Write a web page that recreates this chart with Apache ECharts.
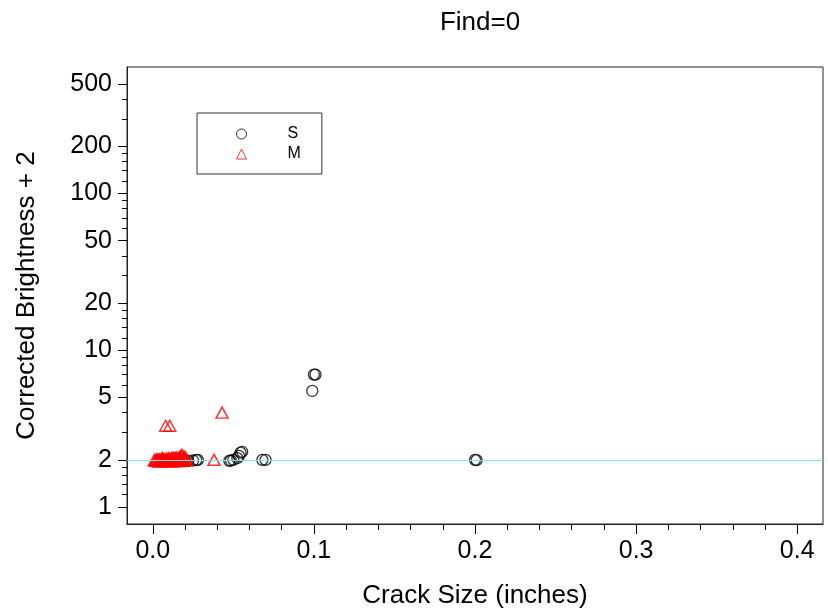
<!DOCTYPE html>
<html>
<head>
<meta charset="utf-8">
<script src="https://cdn.jsdelivr.net/npm/echarts@6/dist/echarts.min.js"></script>
<style>html,body{margin:0;padding:0;background:#fff}#c{width:828px;height:615px}</style>
</head>
<body>
<div id="c"></div>
<script>
// ---- data (crack size in inches, corrected brightness + 2) ----
const sX = [0.100, 0.101, 0.099, 0.200, 0.201, 0.068, 0.070, 0.0545, 0.0555, 0.0535, 0.0525, 0.050, 0.0485, 0.0475, 0.028, 0.027, 0.025, 0.022, 0.020, 0.018, 0.016];
const sY = [7.0, 7.0, 5.5, 2.0, 1.99, 2.0, 2.0, 2.22, 2.25, 2.12, 2.05, 2.0, 1.98, 1.97, 2.0, 1.99, 1.98, 1.97, 1.98, 2.0, 1.98];
const mX = [0.008, 0.0105, 0.043, 0.038,
  0.001, 0.0015, 0.002, 0.0025, 0.003, 0.0035, 0.004, 0.0045, 0.005, 0.0055, 0.006, 0.0065, 0.007, 0.0075, 0.008, 0.0085,
  0.009, 0.0095, 0.010, 0.0105, 0.011, 0.0115, 0.012, 0.0125, 0.013, 0.0135, 0.014, 0.0145, 0.015, 0.0155, 0.016, 0.0165,
  0.017, 0.0175, 0.018, 0.0185, 0.019, 0.0195, 0.020, 0.0205, 0.021, 0.006, 0.010, 0.014, 0.018, 0.004, 0.012, 0.016];
const mY = [3.3, 3.3, 4.0, 2.0,
  2.0, 1.97, 1.98, 2.02, 2.0, 1.96, 2.02, 1.99, 1.97, 2.03, 2.0, 1.96, 2.03, 1.98, 1.98, 2.04,
  2.0, 1.96, 2.02, 1.98, 1.97, 2.05, 2.0, 2.06, 2.05, 1.97, 2.0, 1.97, 2.07, 2.02, 2.0, 2.08,
  2.1, 1.98, 2.15, 2.12, 2.05, 1.97, 2.1, 2.03, 2.0, 2.05, 2.05, 2.06, 2.0, 1.95, 1.95, 1.96];
const xTickLabels = [0.0, 0.1, 0.2, 0.3, 0.4];
const xMinorTicks = [0.02, 0.04, 0.06, 0.08, 0.12, 0.14, 0.16, 0.18, 0.22, 0.24, 0.26, 0.28, 0.32, 0.34, 0.36, 0.38];
const yTickLabels = [1, 2, 5, 10, 20, 50, 100, 200, 500];
const yMinorTicks = [1.2, 1.4, 1.6, 1.8, 3, 4, 6, 7, 8, 9, 12, 14, 16, 18, 30, 40, 60, 70, 80, 90, 120, 140, 160, 180, 300, 400];
const refLine = 2;

const L = v => Math.log10(v);
const font = '"Liberation Sans", Arial, sans-serif';
const chart = echarts.init(document.getElementById('c'));

const xBase = { type: 'value', min: -0.016, max: 0.416, splitLine: { show: false } };
const yBase = { type: 'value', min: -0.1085, max: 2.8075, splitLine: { show: false } };

chart.setOption({
  animation: false,
  title: {
    text: 'Find=0', left: 475, top: 5, textAlign: 'center',
    textStyle: { fontFamily: font, fontSize: 26, fontWeight: 'normal', color: '#000' }
  },
  legend: {
    orient: 'vertical', left: 197, top: 113,
    padding: [13, 21, 12, 39], itemGap: 4,
    itemWidth: 10, itemHeight: 10,
    borderColor: '#333', borderWidth: 1,
    textStyle: { fontFamily: font, fontSize: 16, color: '#000', padding: [0, 0, 0, 36] },
    data: [
      { name: 'S', icon: 'circle', itemStyle: { color: 'rgba(0,0,0,0)', borderColor: '#000', borderWidth: 1 } },
      { name: 'M', icon: 'triangle', itemStyle: { color: 'rgba(0,0,0,0)', borderColor: '#ff0000', borderWidth: 1 } }
    ]
  },
  grid: { left: 127, top: 67, right: 5, bottom: 91, show: true, borderColor: '#222', borderWidth: 1, backgroundColor: 'transparent' },
  xAxis: [
    Object.assign({}, xBase, {
      position: 'bottom',
      name: 'Crack Size (inches)', nameLocation: 'middle', nameGap: 59,
      nameTextStyle: { fontFamily: font, fontSize: 26, color: '#000' },
      axisLine: { show: true, onZero: false, lineStyle: { color: '#222', width: 1 } },
      axisTick: { show: true, length: 10, customValues: xTickLabels, lineStyle: { color: '#000' } },
      axisLabel: { customValues: xTickLabels, margin: 15, fontFamily: font, fontSize: 25, color: '#000',
        formatter: v => Number(v).toFixed(1) }
    }),
    Object.assign({}, xBase, {
      position: 'bottom', offset: 0,
      axisLine: { show: false, onZero: false },
      axisTick: { show: true, length: 6, customValues: xMinorTicks, lineStyle: { color: '#000' } },
      axisLabel: { show: false }
    })
  ],
  yAxis: [
    Object.assign({}, yBase, {
      position: 'left',
      name: 'Corrected Brightness + 2', nameLocation: 'middle', nameGap: 87, nameRotate: 90,
      nameTextStyle: { fontFamily: font, fontSize: 26, color: '#000' },
      axisLine: { show: true, onZero: false, lineStyle: { color: '#222', width: 1 } },
      axisTick: { show: true, length: 9, customValues: yTickLabels.map(L), lineStyle: { color: '#000' } },
      axisLabel: { customValues: yTickLabels.map(L), margin: 15, fontFamily: font, fontSize: 25, color: '#000',
        formatter: v => String(Math.round(Math.pow(10, v))) }
    }),
    Object.assign({}, yBase, {
      position: 'left', offset: 0,
      axisLine: { show: false, onZero: false },
      axisTick: { show: true, length: 5, customValues: yMinorTicks.map(L), lineStyle: { color: '#000' } },
      axisLabel: { show: false }
    })
  ],
  series: [
    {
      name: 'S', type: 'scatter', xAxisIndex: 0, yAxisIndex: 0,
      symbol: 'circle', symbolSize: 11,
      itemStyle: { color: 'rgba(0,0,0,0)', borderColor: '#000', borderWidth: 1.3 },
      data: sX.map((x, i) => [x, L(sY[i])]),
      markLine: {
        silent: true, symbol: 'none', label: { show: false },
        lineStyle: { color: '#7fe3ee', type: 'solid', width: 1 },
        data: [{ yAxis: L(refLine) }]
      }
    },
    {
      name: 'M', type: 'scatter', xAxisIndex: 0, yAxisIndex: 0,
      symbol: 'triangle', symbolSize: [12, 11],
      itemStyle: { color: 'rgba(0,0,0,0)', borderColor: '#ff0000', borderWidth: 1.5 },
      data: mX.map((x, i) => [x, L(mY[i])])
    }
  ]
});
</script>
</body>
</html>
